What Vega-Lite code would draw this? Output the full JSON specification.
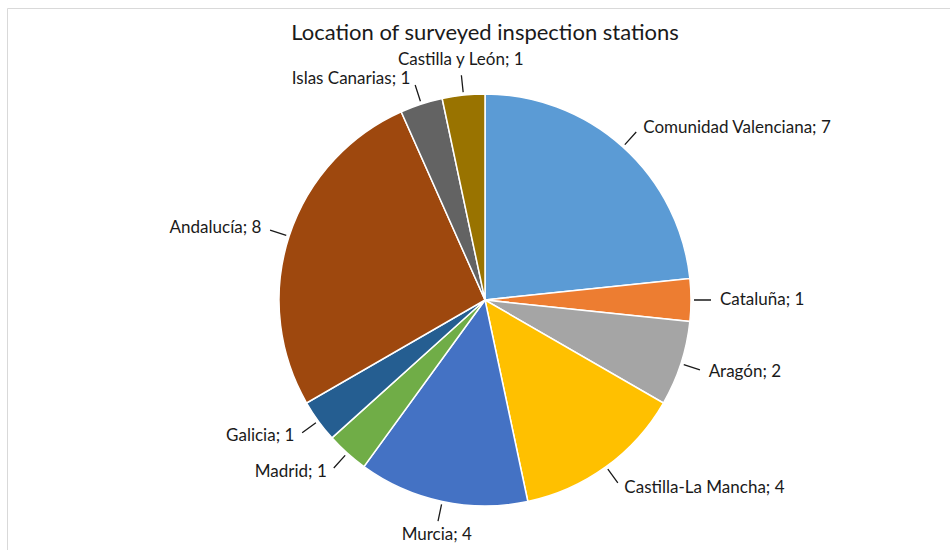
{
  "$schema": "https://vega.github.io/schema/vega-lite/v6.json",
  "width": 956,
  "height": 584,
  "autosize": {"type": "none"},
  "padding": {"left": 7, "top": 8, "right": 0, "bottom": 0},
  "background": "white",
  "view": {"stroke": "#d9d9d9", "strokeWidth": 1},
  "title": {
    "text": "Location of surveyed inspection stations",
    "font": "Lato",
    "fontSize": 22,
    "fontWeight": "normal",
    "color": "#1a1a1a",
    "anchor": "middle",
    "offset": -37
  },
  "data": {
    "values": [
      {"region": "Comunidad Valenciana", "value": 7},
      {"region": "Cataluña", "value": 1},
      {"region": "Aragón", "value": 2},
      {"region": "Castilla-La Mancha", "value": 4},
      {"region": "Murcia", "value": 4},
      {"region": "Madrid", "value": 1},
      {"region": "Galicia", "value": 1},
      {"region": "Andalucía", "value": 8},
      {"region": "Islas Canarias", "value": 1},
      {"region": "Castilla y León", "value": 1}
    ]
  },
  "transform": [
    {"stack": "value", "groupby": [], "as": ["s0", "s1"]},
    {"calculate": "(datum.s0 + datum.s1) / 2", "as": "mid"},
    {"calculate": "datum.region + '; ' + datum.value", "as": "label"}
  ],
  "layer": [
    {
      "mark": {"type": "arc", "radius": 206, "stroke": "white", "strokeWidth": 1.5},
      "encoding": {
        "theta": {"field": "s0", "type": "quantitative", "scale": {"domain": [0, 30]}, "stack": null},
        "theta2": {"field": "s1"},
        "color": {
          "field": "region",
          "type": "nominal",
          "legend": null,
          "scale": {
            "domain": ["Comunidad Valenciana", "Cataluña", "Aragón", "Castilla-La Mancha", "Murcia", "Madrid", "Galicia", "Andalucía", "Islas Canarias", "Castilla y León"],
            "range": ["#5B9BD5", "#ED7D31", "#A5A5A5", "#FFC000", "#4472C4", "#70AD47", "#255E91", "#9E480E", "#636363", "#997300"]
          }
        }
      }
    },
    {
      "mark": {"type": "arc", "radius": 226, "radius2": 209, "fill": "transparent", "stroke": "#1a1a1a", "strokeWidth": 1.3},
      "encoding": {
        "theta": {"field": "mid", "type": "quantitative", "scale": {"domain": [0, 30]}, "stack": null},
        "theta2": {"field": "mid"}
      }
    },
    {
      "mark": {
        "type": "text",
        "radius": 232,
        "font": "Lato",
        "fontSize": 17,
        "color": "#1a1a1a",
        "baseline": {"expr": "(datum.mid >= 29 || datum.mid <= 1.5) ? 'bottom' : (datum.mid >= 14 && datum.mid <= 17 ? 'top' : 'middle')"},
        "align": {"expr": "datum.mid > 1.5 && datum.mid < 14 ? 'left' : (datum.mid > 17 && datum.mid < 29 ? 'right' : 'center')"},
        "dx": {"expr": "datum.mid > 1.5 && datum.mid < 14 ? 3 : (datum.mid > 17 && datum.mid < 29 ? -3 : 0)"}
      },
      "encoding": {
        "theta": {"field": "mid", "type": "quantitative", "scale": {"domain": [0, 30]}, "stack": null},
        "text": {"field": "label", "type": "nominal"}
      }
    }
  ]
}
